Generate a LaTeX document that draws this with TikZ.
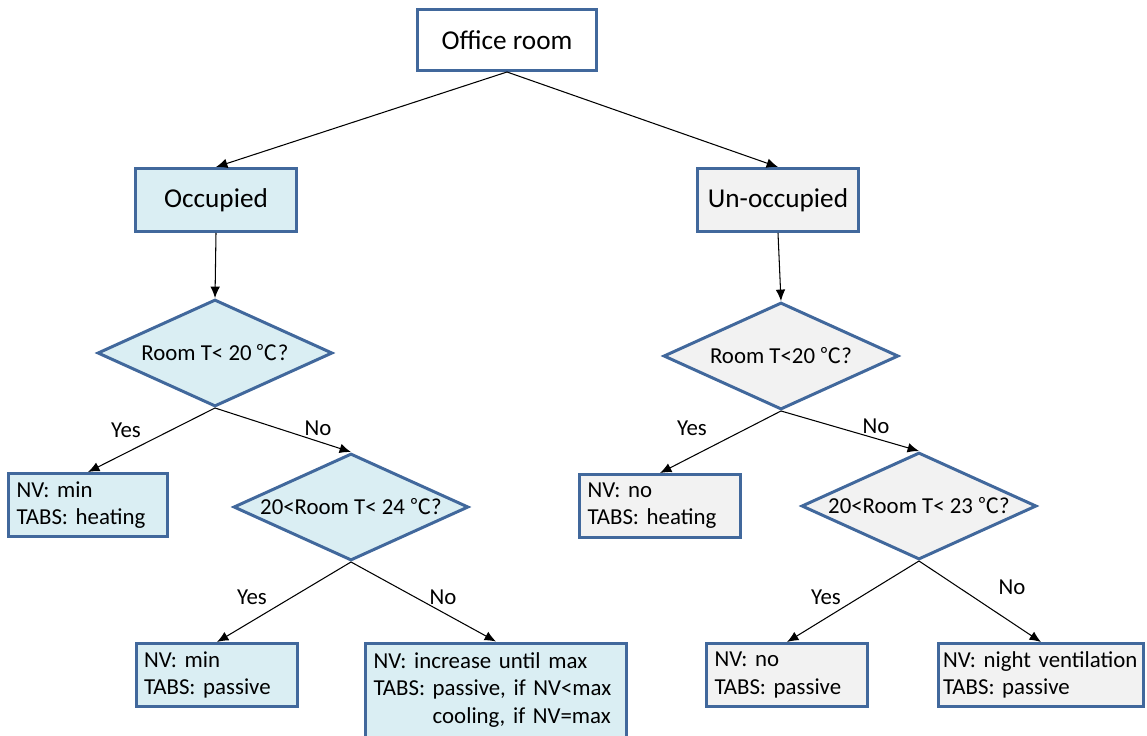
\documentclass[tikz,border=0pt]{standalone}
\usepackage{fontspec}
\setmainfont{Carlito}
\newfontfamily\cjkfont{Noto Sans CJK SC}
\usetikzlibrary{shapes.geometric, arrows.meta}
\definecolor{BoxBorder}{HTML}{41689C}
\definecolor{BoxBlue}{HTML}{DAEEF3}
\definecolor{BoxGray}{HTML}{F2F2F2}
\newcommand{\degC}{{\cjkfont\fontsize{12}{13}\selectfont ℃}}
\tikzset{
    % Boxes with sharp corners
    component/.style={
        rectangle,
        draw=BoxBorder,
        fill=white,
        line width=1.7pt,
        minimum width=3.24cm,
        minimum height=1.26cm,
        font=\fontsize{15.5}{18}\selectfont
    },
    component blue/.style={component, fill=BoxBlue},
    component gray/.style={component, fill=BoxGray},
    leaf/.style={
        rectangle,
        draw=BoxBorder,
        line width=1.7pt,
        inner xsep=0.16cm,
        minimum height=1.26cm,
        align=left,
        font=\fontsize{13}{15.5}\selectfont
    },
    leaf blue/.style={leaf, fill=BoxBlue},
    leaf gray/.style={leaf, fill=BoxGray},
    decision/.style={
        diamond,
        draw=BoxBorder,
        line width=1.7pt,
        inner sep=0pt,
        minimum width=4.7cm,
        minimum height=2.14cm,
        font=\fontsize{13}{15.5}\selectfont
    },
    decision blue/.style={decision, fill=BoxBlue},
    decision gray/.style={decision, fill=BoxGray},
    answer/.style={
        inner sep=1pt,
        font=\fontsize{13}{15.5}\selectfont
    },
    arrow style/.style={
        -{Latex[length=6.5pt,width=5.5pt]},
        line width=0.6pt,
        black
    }
}
\begin{document}
\begin{tikzpicture}[x=0.02cm, y=-0.02cm]
    \useasboundingbox (0,0) rectangle (1147,735);

    % Top
    \node[component, minimum width=3.58cm, minimum height=1.22cm] (office) at (507,40) {Office room};

    % Occupied branch
    \node[component blue] (occ) at (216,200) {Occupied};
    \node[decision blue] (qa) at (215,353) {\makebox[0pt]{Room T< 20 \degC?}};
    \node[leaf blue, text width=2.86cm] (occheat) at (88,505) {NV: min\\TABS: heating};
    \node[decision blue] (qc) at (351,507) {\makebox[0pt]{20<Room T< 24 \degC?}};
    \node[leaf blue, text width=2.92cm] (occpass) at (217,675) {NV: min\\TABS: passive};
    \node[leaf blue, text width=4.90cm, minimum height=1.88cm] (occcool) at (496,690) {
        NV: increase until max\\
        TABS: passive, if NV<max\\
        \phantom{TABS: }cooling, if NV=max
    };

    % Un-occupied branch
    \node[component gray] (unocc) at (778,200) {Un-occupied};
    \node[decision gray] (qb) at (781,356) {\makebox[0pt]{Room T<20 \degC?}};
    \node[leaf gray, text width=2.90cm] (unoccheat) at (660,506) {NV: no\\TABS: heating};
    \node[decision gray] (qd) at (919,506) {\makebox[0pt]{20<Room T< 23 \degC?}};
    \node[leaf gray, text width=2.90cm] (unoccpass) at (787,675) {NV: no\\TABS: passive};
    \node[leaf gray, inner xsep=0.1cm, text width=3.92cm] (unoccnight) at (1041,675) {\mbox{NV: night ventilation}\\TABS: passive};

    % Arrows
    \draw[arrow style] (office.south) -- (occ.north);
    \draw[arrow style] (office.south) -- (unocc.north);
    \draw[arrow style] (occ.south) -- (qa.north);
    \draw[arrow style] (unocc.south) -- (qb.north);
    \draw[arrow style] (qa.south) -- (occheat.north);
    \draw[arrow style] (qa.south) -- (qc.north);
    \draw[arrow style] (qc.south) -- (occpass.north);
    \draw[arrow style] (qc.south) -- (occcool.north);
    \draw[arrow style] (qb.south) -- (unoccheat.north);
    \draw[arrow style] (qb.south) -- (qd.north);
    \draw[arrow style] (qd.south) -- (unoccpass.north);
    \draw[arrow style] (qd.south) -- (unoccnight.north);

    % Yes / No
    \node[answer] (yesa) at (126,430) {Yes};
    \node[answer] (noa) at (318,428) {No};
    \node[answer] (yesc) at (252,597) {Yes};
    \node[answer] (noc) at (443,597) {No};
    \node[answer] (yesb) at (692,428) {Yes};
    \node[answer] (nob) at (876,426) {No};
    \node[answer] (yesd) at (826,597) {Yes};
    \node[answer] (nod) at (1012,587) {No};
\end{tikzpicture}
\end{document}
